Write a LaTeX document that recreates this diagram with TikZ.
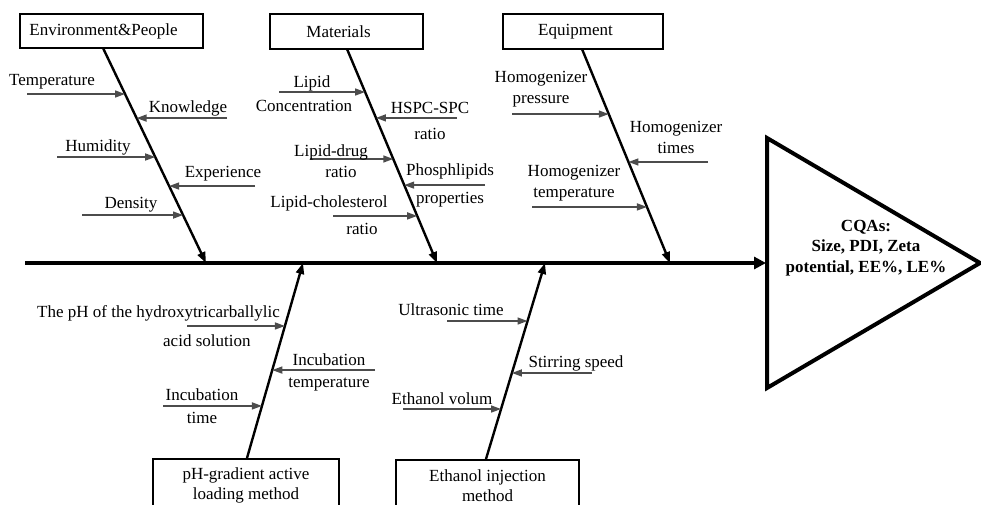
\documentclass[tikz,border=0pt]{standalone}
\usepackage{fontspec}
\setmainfont{Liberation Serif}
\usetikzlibrary{arrows.meta,calc}
\begin{document}
\begin{tikzpicture}[x=1pt,y=-1pt,
  txt/.style={font=\fontsize{17}{20}\selectfont, inner sep=0pt, align=center},
  catbox/.style={draw, line width=2pt, font=\fontsize{17}{20}\selectfont, inner sep=0pt, align=center},
  bone/.style={line width=2.4pt, -{Triangle[length=11pt,width=8pt]}},
  sub/.style={draw=black!70, line width=1.5pt, -{Triangle[length=10pt,width=7pt]}},
  spine/.style={line width=4pt, -{Triangle[length=12pt,width=12pt]}}]
\useasboundingbox (0,0) rectangle (981,505);
\begin{scope}
\clip (0,0) rectangle (981,505);

% category boxes
\node[catbox, minimum width=183pt, minimum height=34pt] (env) at (111.5,31) {Environment\&People\hspace*{16pt}};
\node[catbox, minimum width=153pt, minimum height=35pt] (mat) at (346.5,31.5) {Materials\hspace*{16pt}};
\node[catbox, minimum width=160pt, minimum height=35pt] (equ) at (583,31.5) {Equipment\hspace*{15pt}};
\node[catbox, minimum width=186pt, minimum height=52pt] (phb) at (246,485) {pH-gradient active\\loading method};
\node[catbox, minimum width=183pt, minimum height=52pt] (ethb) at (487.5,486) {Ethanol injection\\method};

% spine and result triangle
\coordinate (sp0) at (25,263);
\coordinate (tri) at (766,263);
\draw[line width=4pt, line join=miter] (767,138) -- (980,263) -- (767,388) -- cycle;
\node[txt, font=\fontsize{17}{20.5}\selectfont\bfseries] (cqa) at (866,248) {CQAs:\\Size, PDI, Zeta\\potential, EE\%, LE\%};
\draw[spine] (sp0) -- (tri);

% bones
\coordinate (eT) at (103,48);   \coordinate (eB) at (206,263);
\coordinate (mT) at (347,49);   \coordinate (mB) at (437,263);
\coordinate (qT) at (582,49);   \coordinate (qB) at (670,263);
\coordinate (pB) at (247,458);  \coordinate (pT) at (303,263);
\coordinate (iB) at (486,459);  \coordinate (iT) at (545,263);
\draw[bone] (eT) -- (eB);
\draw[bone] (mT) -- (mB);
\draw[bone] (qT) -- (qB);
\draw[bone] (pB) -- (pT);
\draw[bone] (iB) -- (iT);

% Environment & People
\coordinate (e1) at ($(eT)!0.214!(eB)$);
\coordinate (e2) at ($(eT)!0.326!(eB)$);
\coordinate (e3) at ($(eT)!0.507!(eB)$);
\coordinate (e4) at ($(eT)!0.642!(eB)$);
\coordinate (e5) at ($(eT)!0.777!(eB)$);
\draw[sub] (e1 -| 27,0) -- (e1);
\draw[sub] (e2 -| 227,0) -- (e2);
\draw[sub] (e3 -| 57,0) -- (e3);
\draw[sub] (e4 -| 255,0) -- (e4);
\draw[sub] (e5 -| 82,0) -- (e5);
\node[txt] (l-temp) at (52,82) {Temperature};
\node[txt] (l-know) at (188,108) {Knowledge};
\node[txt] (l-hum) at (98,147) {Humidity};
\node[txt] (l-exp) at (223,174) {Experience};
\node[txt] (l-den) at (131,205) {Density};

% Materials
\coordinate (m1) at ($(mT)!0.201!(mB)$);
\coordinate (m2) at ($(mT)!0.322!(mB)$);
\coordinate (m3) at ($(mT)!0.514!(mB)$);
\coordinate (m4) at ($(mT)!0.636!(mB)$);
\coordinate (m5) at ($(mT)!0.780!(mB)$);
\draw[sub] (m1 -| 279,0) -- (m1);
\draw[sub] (m2 -| 457,0) -- (m2);
\draw[sub] (m3 -| 310,0) -- (m3);
\draw[sub] (m4 -| 485,0) -- (m4);
\draw[sub] (m5 -| 333,0) -- (m5);
\node[txt] (l-lc) at (304,94) {\hspace*{16pt}Lipid\\[4pt]Concentration};
\node[txt] (l-hspc) at (430,121) {HSPC-SPC\\[6pt]ratio};
\node[txt] (l-ld) at (331,161) {Lipid-drug\\[1pt]\hspace*{20pt}ratio};
\node[txt] (l-ph) at (450,185) {Phosphlipids\\[8pt]properties};
\node[txt] (l-lch) at (329,215.5) {Lipid-cholesterol\\[7pt]\hspace*{66pt}ratio};

% Equipment
\coordinate (q1) at ($(qT)!0.304!(qB)$);
\coordinate (q2) at ($(qT)!0.528!(qB)$);
\coordinate (q3) at ($(qT)!0.738!(qB)$);
\draw[sub] (q1 -| 512,0) -- (q1);
\draw[sub] (q2 -| 708,0) -- (q2);
\draw[sub] (q3 -| 532,0) -- (q3);
\node[txt] (l-hp) at (541,89.5) {Homogenizer\\[1pt]pressure};
\node[txt] (l-ht) at (676,137.5) {Homogenizer\\[1pt]times};
\node[txt] (l-htm) at (574,183.5) {Homogenizer\\[1pt]temperature};

% pH-gradient active loading
\coordinate (p1) at ($(pT)!0.323!(pB)$);
\coordinate (p2) at ($(pT)!0.549!(pB)$);
\coordinate (p3) at ($(pT)!0.733!(pB)$);
\draw[sub] (p1 -| 187,0) -- (p1);
\draw[sub] (p2 -| 375,0) -- (p2);
\draw[sub] (p3 -| 163,0) -- (p3);
\node[txt, align=left, anchor=west] (l-phs) at (37,326.5) {The pH of the hydroxytricarballylic\\[9pt]\hspace*{126pt}acid solution};
\node[txt] (l-it) at (329,372) {Incubation\\[2pt]temperature};
\node[txt] (l-iti) at (202,406.5) {Incubation\\[3pt]time};

% Ethanol injection
\coordinate (i1) at ($(iT)!0.296!(iB)$);
\coordinate (i2) at ($(iT)!0.561!(iB)$);
\coordinate (i3) at ($(iT)!0.745!(iB)$);
\draw[sub] (i1 -| 447,0) -- (i1);
\draw[sub] (i2 -| 592,0) -- (i2);
\draw[sub] (i3 -| 403,0) -- (i3);
\node[txt] (l-us) at (451,310) {Ultrasonic time};
\node[txt] (l-ss) at (576,363) {Stirring speed};
\node[txt] (l-ev) at (442,399) {Ethanol volum};
\end{scope}
\end{tikzpicture}
\end{document}
